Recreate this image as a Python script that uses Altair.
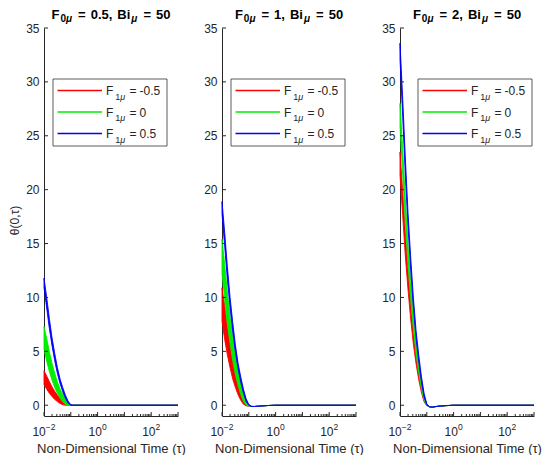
import altair as alt
import pandas as pd

# ---------------- data ----------------
tau = [0.01, 0.0126, 0.0158, 0.02, 0.0251, 0.0316, 0.0398, 0.0501, 0.0631,
       0.0794, 0.1, 0.126, 0.158, 0.251, 0.5, 1, 1000]

F0_values = ["0.5", "1", "2"]
F1_labels = ["-0.5", "0", "0.5"]
series_colors = ["#FF0000", "#00EE00", "#0000FF"]

# panel 1 : F0 = 0.5
red_up_1 = [3.20, 2.71, 2.19, 1.69, 1.30, 0.95, 0.66, 0.44, 0.25, 0.10, 0.01, 0, 0, 0, 0, 0, 0]
red_lo_1 = [1.94, 1.49, 1.12, 0.80, 0.54, 0.34, 0.17, 0.05, 0, 0, 0, 0, 0, 0, 0, 0, 0]
green_up_1 = [7.30, 6.18, 4.99, 3.86, 2.97, 2.16, 1.50, 1.01, 0.58, 0.23, 0.02, 0, 0, 0, 0, 0, 0]
green_lo_1 = [5.23, 4.08, 3.15, 2.32, 1.64, 1.10, 0.66, 0.30, 0.06, 0, 0, 0, 0, 0, 0, 0, 0]
blue_up_1 = [11.80, 9.99, 8.06, 6.24, 4.80, 3.49, 2.43, 1.63, 0.93, 0.38, 0.04, 0, 0, 0, 0, 0, 0]
blue_lo_1 = [10.92, 9.03, 7.14, 5.50, 4.13, 2.95, 2.01, 1.26, 0.64, 0.18, 0, 0, 0, 0, 0, 0, 0]

# panel 2 : F0 = 1
red_up_2 = [10.90, 9.23, 7.44, 5.77, 4.44, 3.23, 2.25, 1.50, 0.86, 0.35, 0.03, -0.10, -0.12, -0.08, -0.03, 0, 0]
red_lo_2 = [7.80, 6.09, 4.70, 3.47, 2.44, 1.65, 0.98, 0.45, 0.09, -0.05, -0.10, -0.12, -0.12, -0.08, -0.03, 0, 0]
green_up_2 = [15.40, 13.04, 10.52, 8.15, 6.27, 4.56, 3.17, 2.13, 1.22, 0.49, 0.05, -0.10, -0.12, -0.08, -0.03, 0, 0]
green_lo_2 = [12.29, 9.79, 7.56, 5.74, 4.13, 2.83, 1.83, 0.99, 0.34, 0.02, -0.08, -0.12, -0.12, -0.08, -0.03, 0, 0]
blue_up_2 = [18.90, 16.01, 12.91, 10.00, 7.69, 5.59, 3.89, 2.61, 1.49, 0.60, 0.06, -0.10, -0.12, -0.08, -0.03, 0, 0]
blue_lo_2 = [17.77, 14.76, 11.74, 9.05, 6.82, 4.90, 3.35, 2.14, 1.12, 0.34, 0, -0.12, -0.12, -0.08, -0.03, 0, 0]

# panel 3 : F0 = 2
red_up_3 = [23.50, 19.90, 16.05, 12.43, 9.56, 6.96, 4.84, 3.24, 1.86, 0.75, 0.07, -0.15, -0.18, -0.10, -0.04, 0, 0]
red_lo_3 = [21.36, 17.60, 13.87, 10.67, 7.97, 5.66, 3.85, 2.37, 1.18, 0.31, -0.05, -0.15, -0.18, -0.10, -0.04, 0, 0]
green_up_3 = [28.00, 23.72, 19.12, 14.81, 11.40, 8.29, 5.77, 3.86, 2.21, 0.90, 0.08, -0.15, -0.18, -0.10, -0.04, 0, 0]
green_lo_3 = [25.90, 21.42, 16.94, 13.05, 9.80, 7.00, 4.76, 3.00, 1.51, 0.42, -0.03, -0.15, -0.18, -0.10, -0.04, 0, 0]
blue_up_3 = [33.60, 28.46, 22.95, 17.77, 13.68, 9.95, 6.92, 4.64, 2.65, 1.08, 0.10, -0.15, -0.18, -0.10, -0.04, 0, 0]
blue_lo_3 = [32.09, 26.81, 21.37, 16.50, 12.53, 9.00, 6.18, 4.00, 2.15, 0.74, 0.03, -0.15, -0.18, -0.10, -0.04, 0, 0]

y_ticks = [0, 5, 10, 15, 20, 25, 30, 35]
x_major = [0.01, 0.1, 1, 10, 100, 1000]
x_minor = [m * 10.0 ** e for e in range(-2, 3) for m in range(2, 10)]
x_label_pos = [0.01, 1, 100]
x_label_exp = ["\u22122", "0", "2"]

panels_data = [
    [(red_up_1, red_lo_1), (green_up_1, green_lo_1), (blue_up_1, blue_lo_1)],
    [(red_up_2, red_lo_2), (green_up_2, green_lo_2), (blue_up_2, blue_lo_2)],
    [(red_up_3, red_lo_3), (green_up_3, green_lo_3), (blue_up_3, blue_lo_3)],
]

# ---------------- styling ----------------
W, H = 134, 388
FONT = "Liberation Sans"
AX = "#262626"
legend_left = [9, 9, 18]
legend_rows = [62.5, 84, 105.5]

REG = {' ': 278, '-': 333, '.': 278, ',': 278, '=': 584, 'F': 611, 'B': 667,
       'i': 222, '\u03bc': 576, '\u2212': 584}
BOLD = {' ': 278, '-': 333, '.': 278, ',': 278, '=': 584, 'F': 611, 'B': 722,
        'i': 278, '\u03bc': 611, '\u2212': 584}


def text_w(s, size, bold):
    tab = BOLD if bold else REG
    return sum((556 if c.isdigit() else tab.get(c, 556)) for c in s) * size / 1000.0


def one_row(tag):
    return pd.DataFrame({"k": [tag]})


def piece_layers(pieces, x0, y0, color, bold, tag):
    layers = []
    x = x0
    for j, (text, size, dy, gap, ital) in enumerate(pieces):
        x += gap
        layers.append(
            alt.Chart(one_row(f"{tag}-{j}")).mark_text(
                text=text, font=FONT, fontSize=size,
                fontWeight="bold" if bold else "normal",
                fontStyle="italic" if ital else "normal",
                align="left", baseline="alphabetic", color=color,
            ).encode(x=alt.value(x), y=alt.value(y0 + dy))
        )
        x += text_w(text, size, bold)
    return layers


def pieces_width(pieces, bold):
    return sum(g + text_w(t, s, bold) for t, s, dy, g, it in pieces)


xscale = alt.Scale(type="log", domain=[0.01, 1000], nice=False)
yscale = alt.Scale(domain=[-1, 35], nice=False, zero=False)


def xaxis():
    return alt.Axis(title="Non-Dimensional Time (\u03c4)", labels=False, ticks=False,
                    tickSize=0, grid=False, domainColor=AX, domainWidth=1,
                    titleFont=FONT, titleFontSize=13, titleFontWeight="normal",
                    titleColor=AX, titlePadding=26)


def yaxis(first):
    if first:
        return alt.Axis(values=y_ticks, title="\u03b8(0,\u03c4)", ticks=False, tickSize=0,
                        grid=False, domainColor=AX, domainWidth=1, labelFont=FONT,
                        labelFontSize=12, labelColor=AX, labelPadding=5,
                        titleFont=FONT, titleFontSize=12, titleFontWeight="normal",
                        titleColor=AX, titlePadding=4, titleY=H / 2.0 - 2)
    return alt.Axis(values=y_ticks, title=None, ticks=False, tickSize=0,
                    grid=False, domainColor=AX, domainWidth=1, labelFont=FONT,
                    labelFontSize=12, labelColor=AX, labelPadding=5)


def panel(idx):
    first = idx == 0
    layers = []
    for s, (up, lo) in enumerate(panels_data[idx]):
        df = pd.DataFrame({"tau": tau, "upper": up, "lower": lo})
        c = series_colors[s]
        layers.append(
            alt.Chart(df).mark_area(color=c, stroke=c, strokeWidth=0.9, opacity=1).encode(
                x=alt.X("tau:Q", scale=xscale, axis=xaxis()),
                y=alt.Y("upper:Q", scale=yscale, axis=yaxis(first)),
                y2="lower:Q",
            )
        )
    # inside ticks (MATLAB style)
    layers.append(
        alt.Chart(pd.DataFrame({"v": y_ticks})).mark_rule(color=AX, strokeWidth=1).encode(
            y=alt.Y("v:Q", scale=yscale, axis=yaxis(first)),
            x=alt.value(0), x2=alt.value(4),
        )
    )
    layers.append(
        alt.Chart(pd.DataFrame({"t": x_major})).mark_rule(color=AX, strokeWidth=1).encode(
            x=alt.X("t:Q", scale=xscale, axis=xaxis()),
            y=alt.value(H), y2=alt.value(H - 4),
        )
    )
    layers.append(
        alt.Chart(pd.DataFrame({"t": x_minor})).mark_rule(color=AX, strokeWidth=1).encode(
            x=alt.X("t:Q", scale=xscale, axis=xaxis()),
            y=alt.value(H), y2=alt.value(H - 2),
        )
    )
    # x tick labels 10^n
    for pos, ex in zip(x_label_pos, x_label_exp):
        sup_w = text_w(ex, 8.5, False)
        shift = (13.3 - sup_w) / 2.0
        d = pd.DataFrame({"t": [pos]})
        layers.append(
            alt.Chart(d).mark_text(text="10", font=FONT, fontSize=12, color=AX,
                                   align="right", baseline="alphabetic", dx=shift).encode(
                x=alt.X("t:Q", scale=xscale, axis=xaxis()), y=alt.value(H + 20))
        )
        layers.append(
            alt.Chart(d).mark_text(text=ex, font=FONT, fontSize=8.5, color=AX,
                                   align="left", baseline="alphabetic", dx=shift).encode(
                x=alt.X("t:Q", scale=xscale, axis=xaxis()), y=alt.value(H + 14))
        )
    # title F_{0mu} = v, Bi_{mu} = 50
    tpieces = [("F", 13, 0, 0, False), ("0", 10, 3, 1, False), ("\u03bc", 10, 3, 0, True),
               ("=", 13, 0, 6, False), (F0_values[idx] + ",", 13, 0, 5, False),
               ("Bi", 13, 0, 5, False), ("\u03bc", 10, 3, 1, True),
               ("=", 13, 0, 6, False), ("50", 13, 0, 5, False)]
    tw = pieces_width(tpieces, True)
    layers += piece_layers(tpieces, W / 2.0 - tw / 2.0, -9.3, "black", True, f"t{idx}")
    # legend box
    bl = legend_left[idx]
    layers.append(
        alt.Chart(one_row(f"box{idx}")).mark_rect(fill="white", stroke="#333333", strokeWidth=0.8).encode(
            x=alt.value(bl), x2=alt.value(bl + 114), y=alt.value(51), y2=alt.value(118))
    )
    for s in range(3):
        ry = legend_rows[s]
        lpieces = [("F", 12, 0, 0, False), ("1", 9, 4.5, 2, False), ("\u03bc", 9, 4.5, 0, True),
                   ("=", 12, 0, 4, False), (F1_labels[s], 12, 0, 3, False)]
        layers += piece_layers(lpieces, bl + 53, ry + 4.5, AX, False, f"l{idx}-{s}")
    # legend sample lines (drawn last, colour given as encoding values)
    for s in range(3):
        ry = legend_rows[s]
        col = series_colors[s]
        layers.append(
            alt.Chart(one_row(f"leg{idx}-{s}-{col}")).mark_rule().encode(
                x=alt.value(bl + 4.5), x2=alt.value(bl + 49), y=alt.value(ry),
                stroke=alt.value(col), strokeWidth=alt.value(1.3), opacity=alt.value(1))
        )
    return alt.layer(*layers).properties(width=W, height=H)


chart = alt.hconcat(panel(0), panel(1), panel(2), spacing=44, bounds="flush").properties(
    padding={"left": 0, "top": 0, "right": 0, "bottom": 0},
    background="white",
).configure_view(strokeWidth=0)

chart.save("out.html", embed_options={"renderer": "svg", "actions": False})
